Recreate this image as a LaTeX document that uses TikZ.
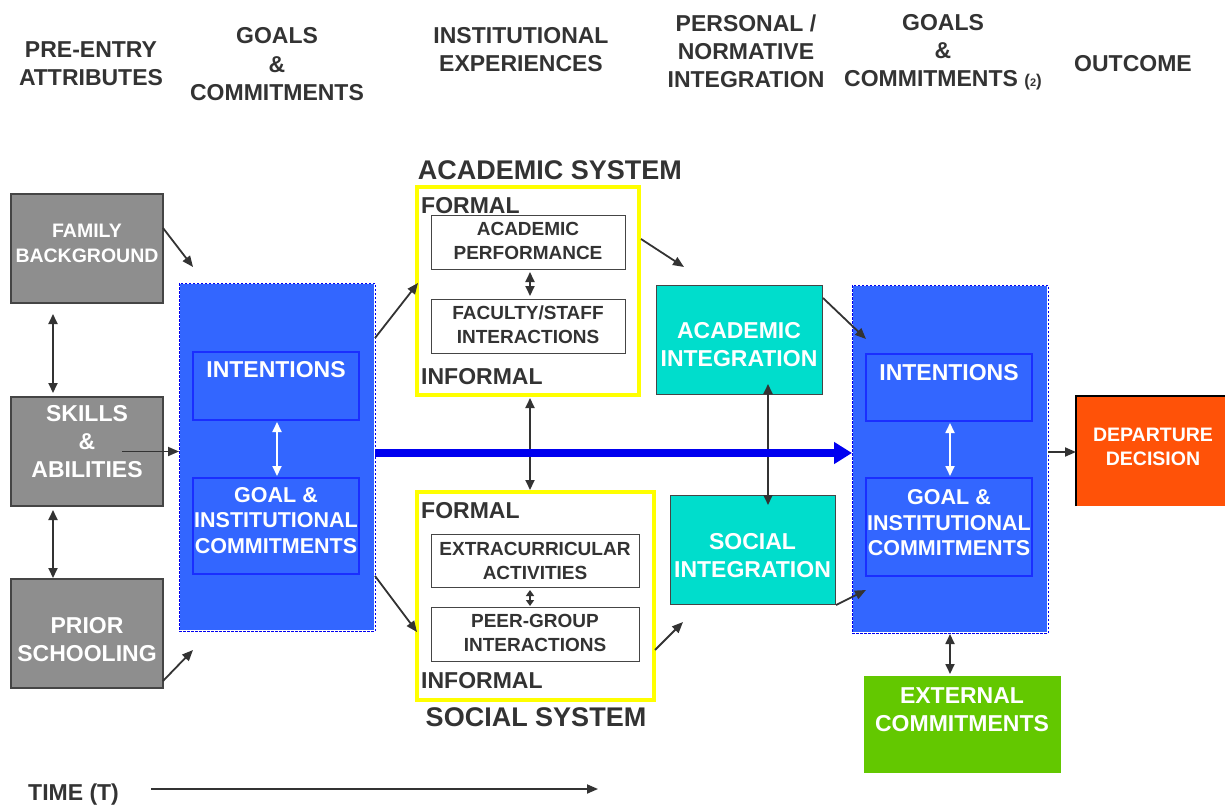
\documentclass[tikz,border=0pt]{standalone}
\usepackage{fontspec}
\setmainfont{Liberation Sans}
\usetikzlibrary{arrows.meta,calc}
\definecolor{txtc}{HTML}{333333}
\definecolor{grayf}{HTML}{8E8E8E}
\definecolor{grayd}{HTML}{454545}
\definecolor{bluef}{HTML}{3366FF}
\definecolor{bluein}{HTML}{1A2EFF}
\definecolor{bluearr}{HTML}{0000F0}
\definecolor{tealf}{HTML}{00DDCC}
\definecolor{orangef}{HTML}{FF5208}
\definecolor{greenf}{HTML}{63C800}
\definecolor{yel}{HTML}{FFFF00}
\definecolor{arrc}{HTML}{333333}
\begin{document}
\begin{tikzpicture}[x=1pt,y=-1pt,
  box/.style={anchor=north west, inner sep=0pt, outer sep=0pt},
  graybox/.style={box, fill=grayf, draw=grayd, line width=1.2pt, minimum width=152pt, minimum height=109pt},
  bigblue/.style={box, fill=bluef, draw=white, line width=1.2pt, minimum width=196pt, minimum height=348pt},
  innerblue/.style={box, draw=bluein, line width=1.2pt, minimum width=166pt},
  sysbox/.style={box, draw=yel, line width=3.2pt, fill=white},
  whitebox/.style={box, draw=grayd, line width=1pt, fill=white},
  tealbox/.style={box, fill=tealf, draw=grayd, line width=1pt, minimum height=109pt},
  lbl/.style={inner sep=0pt, align=center, font=\bfseries\fontsize{23}{28}\selectfont},
  hdr/.style={lbl, text=txtc},
  wt/.style={lbl, text=white},
  smallf/.style={font=\bfseries\fontsize{19}{24}\selectfont},
  goalf/.style={font=\bfseries\fontsize{21.5}{25.5}\selectfont},
  arr/.style={draw=arrc, line width=1.8pt, -{Triangle[length=11pt,width=9pt]}},
  darr/.style={draw=arrc, line width=1.8pt, {Triangle[length=10pt,width=9pt]}-{Triangle[length=10pt,width=9pt]}},
  sdarr/.style={draw=arrc, line width=1.8pt, {Triangle[length=6pt,width=8pt]}-{Triangle[length=6pt,width=8pt]}},
  wdarr/.style={darr, draw=white},
  dashb/.style={draw=bluearr, line width=0.9pt, dash pattern=on 2.5pt off 1.5pt},
]
\useasboundingbox (0,0) rectangle (1225,805);

% headers
\node[hdr] (h1) at (91,64) {PRE-ENTRY\\ATTRIBUTES};
\node[hdr, font=\bfseries\fontsize{23}{28.5}\selectfont] (h2) at (277,64.5) {GOALS\\\&\\COMMITMENTS};
\node[hdr] (h3) at (521,50) {INSTITUTIONAL\\EXPERIENCES};
\node[hdr] (h4) at (746,51) {PERSONAL /\\NORMATIVE\\INTEGRATION};
\node[hdr] (h5) at (943,52) {GOALS\\\&\\COMMITMENTS {\fontsize{17}{17}\selectfont(}{\fontsize{11}{11}\selectfont 2}{\fontsize{17}{17}\selectfont)}};
\node[hdr] (h6) at (1133,64) {OUTCOME};

% pre-entry
\node[graybox] (fam) at (11,194) {};
\node[wt, font=\bfseries\fontsize{19.5}{25}\selectfont] (famt) at (87,243.5) {FAMILY\\BACKGROUND};
\node[graybox] (skl) at (11,397) {};
\node[wt] (sklt) at (87,442) {SKILLS\\\&\\ABILITIES};
\node[graybox] (pri) at (11,579) {};
\node[wt] (prit) at (87,639.5) {PRIOR\\SCHOOLING};

% left goals
\node[bigblue] (lb) at (179,283) {};
\draw[dashb] (lb.north west) rectangle (lb.south east);
\node[innerblue, minimum height=68pt] (lint) at (193,352) {};
\node[wt] (lintt) at (276,370) {INTENTIONS};
\node[innerblue, minimum height=96pt] (lgoal) at (193,478) {};
\node[wt, goalf] (lgoalt) at (276,520.5) {GOAL \&\\INSTITUTIONAL\\COMMITMENTS};

% academic system
\node[sysbox, minimum width=222pt, minimum height=208pt] (acs) at (417,187) {};
\node[hdr, font=\bfseries\fontsize{27}{30}\selectfont] (acst) at (550,170) {ACADEMIC SYSTEM};
\node[hdr, anchor=west] (af) at (421,206) {FORMAL};
\node[whitebox, minimum width=194pt, minimum height=54pt] (ap) at (431,215) {};
\node[hdr, smallf] (apt) at (528,241) {ACADEMIC\\PERFORMANCE};
\node[whitebox, minimum width=194pt, minimum height=54pt] (fs) at (431,299) {};
\node[hdr, smallf] (fst) at (528,325) {FACULTY/STAFF\\INTERACTIONS};
\node[hdr, anchor=west] (ai2) at (421,377) {INFORMAL};

% social system
\node[sysbox, minimum width=237pt, minimum height=208pt] (sos) at (417,492) {};
\node[hdr, font=\bfseries\fontsize{27}{30}\selectfont] (sost) at (536,717) {SOCIAL SYSTEM};
\node[hdr, anchor=west] (sf) at (421,511) {FORMAL};
\node[whitebox, minimum width=208pt, minimum height=53pt] (ex) at (431,534) {};
\node[hdr, smallf] (ext2) at (535,560.5) {EXTRACURRICULAR\\ACTIVITIES};
\node[whitebox, minimum width=208pt, minimum height=54pt] (pg) at (431,607) {};
\node[hdr, smallf] (pgt) at (535,633) {PEER-GROUP\\INTERACTIONS};
\node[hdr, anchor=west] (si2) at (421,681) {INFORMAL};

% integration
\node[tealbox, minimum width=166pt] (ai) at (656,285) {};
\node[wt] (ait) at (739,345) {ACADEMIC\\INTEGRATION};
\node[tealbox, minimum width=165pt] (si) at (670,495) {};
\node[wt] (sit) at (752.5,556) {SOCIAL\\INTEGRATION};

% right goals
\node[bigblue] (rb) at (852,285) {};
\draw[dashb] (rb.north west) rectangle (rb.south east);
\node[innerblue, minimum height=67pt] (rint) at (866,354) {};
\node[wt] (rintt) at (949,373) {INTENTIONS};
\node[innerblue, minimum height=98pt] (rgoal) at (866,478) {};
\node[wt, goalf] (rgoalt) at (949,523) {GOAL \&\\INSTITUTIONAL\\COMMITMENTS};

% outcome
\node[box, fill=orangef, minimum width=160pt, minimum height=110pt] (dep) at (1076,396) {};
\draw[black, line width=2.5pt] (dep.south west) -- (dep.north west) -- (dep.north east);
\node[wt, font=\bfseries\fontsize{19.5}{24}\selectfont] (dept) at (1153,447) {DEPARTURE\\DECISION};
\node[box, fill=greenf, minimum width=197pt, minimum height=97pt] (ext) at (864,676) {};
\node[wt] (extt) at (962,710) {EXTERNAL\\COMMITMENTS};

% time
\node[hdr, anchor=base west] (time) at (28,800) {TIME (T)};
\coordinate (tend) at (598,789);
\draw[arr] (time.east |- tend) ++(32,0) -- (tend);

% connectors left
\draw[darr] ($(fam.south)+(-34,11)$) -- ($(skl.north)+(-34,-4)$);
\draw[darr] ($(skl.south)+(-34,4)$) -- ($(pri.north)+(-34,-1)$);
\draw[arr] ($(fam.east)+(0,-20.5)$) -- ($(lb.north west)+(14,-16)$);
\draw[arr] ($(skl.center)+(35,0)$) -- (skl.center -| lb.west);
\draw[arr] ($(pri.east)+(0,47.5)$) -- ($(lb.south west)+(14,19)$);
\draw[wdarr] ($(lint.south)+(1,2)$) -- ($(lgoal.north)+(1,-2)$);
\draw[arr] ($(lb.north east)+(0,55)$) -- ($(acs.west)+(1,-8)$);
\draw[arr] ($(lb.south east)+(0,-55)$) -- ($(sos.west)+(0,36)$);

% connectors middle
\draw[darr] ($(ap.south)+(2,3)$) -- ($(fs.north)+(2,-3)$);
\draw[sdarr] ($(ex.south)+(-5,3)$) -- ($(pg.north)+(-5,-1)$);
\draw[darr] ($(acs.south)+(2,3)$) -- ($(acs.south |- sos.north)+(2,-2)$);
\draw[arr] ($(acs.north east)+(2,52)$) -- ($(ai.north west)+(28,-18)$);
\draw[arr] ($(sos.east)+(1,54)$) -- ($(si.south west)+(13,18)$);
\draw[darr] ($(ai.south)+(29,-10)$) -- ($(si.north)+(15.5,10)$);
\draw[arr] ($(ai.north east)+(1,13)$) -- ($(rb.north west)+(14,54)$);
\draw[arr] ($(si.south east)+(1,1)$) -- ($(rb.south west)+(14,-43)$);

% big time arrow
\coordinate (bs) at ($(lb.east)+(0,-4)$);
\draw[bluearr, line width=8pt, -{Triangle[length=18pt,width=21pt]}] (bs) -- (bs -| rb.west);

% connectors right
\draw[wdarr] ($(rint.south)+(1,2)$) -- ($(rgoal.north)+(1,-2)$);
\draw[arr] ($(rb.east)+(0,-7)$) -- ($(rb.east |- dep.west)+(28,1)$);
\draw[darr] ($(rb.south)+(0,1)$) -- ($(rb.south |- ext.north)+(0,-2)$);
\end{tikzpicture}
\end{document}
